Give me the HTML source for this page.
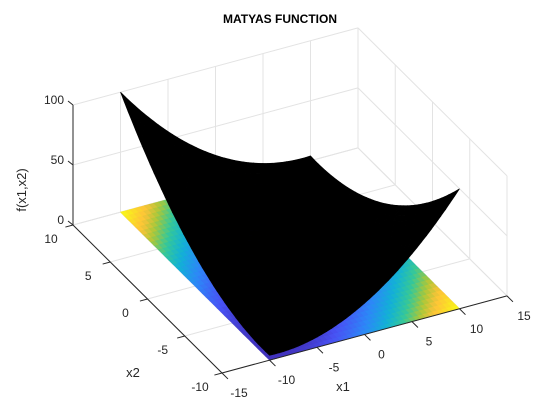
<!DOCTYPE html>
<html><head><meta charset="utf-8"><style>
html,body{margin:0;padding:0;background:#fff}
svg{display:block;font-family:"Liberation Sans",Arial,sans-serif}
</style></head><body>
<svg id="chart" width="560" height="420" viewBox="0 0 560 420">
<rect width="560" height="420" fill="#fff"/>
<g id="grid"></g>
<g id="plane"></g>
<g id="surf"></g>
<g id="axes"></g>
<text x="280" y="23" text-anchor="middle" font-size="12" font-weight="bold">MATYAS FUNCTION</text>
<text x="343" y="391" text-anchor="middle" font-size="13" fill="#262626">x1</text>
<text x="133" y="377" text-anchor="middle" font-size="13" fill="#262626">x2</text>
<text x="0" y="0" transform="translate(26,190) rotate(-90)" text-anchor="middle" font-size="13" fill="#262626">f(x1,x2)</text>
</svg>
<script>
const xTicks = [-15, -10, -5, 0, 5, 10, 15];
const yTicks = [-10, -5, 0, 5, 10];
const zTicks = [0, 50, 100];
const xDomain = [-15, 15];
const yDomain = [-10, 10];
const zDomain = [0, 100];
const surfX = [-10, 10];
const surfY = [-10, 10];
const matyasCoef = [0.26, 0.48];
const clim = [0, 100];

const NS = 'http://www.w3.org/2000/svg';
const O = [222, 373], EX = [9.5, -2.57], EY = [-7.45, -7.4], EZ = -1.2;
function P(x, y, z) {
  const a = x - xDomain[0], b = y - yDomain[0];
  return [O[0] + a * EX[0] + b * EY[0], O[1] + a * EX[1] + b * EY[1] + z * EZ];
}
function f(x, y) { return matyasCoef[0] * (x * x + y * y) - matyasCoef[1] * x * y; }
const stops = [[62,38,168],[72,82,244],[45,135,247],[18,177,214],[55,200,151],[171,199,57],[254,195,56],[250,225,38],[249,251,21]];
function parula(v) {
  let t = Math.max(0, Math.min(1, (v - clim[0]) / (clim[1] - clim[0]))) * (stops.length - 1);
  const i = Math.min(stops.length - 2, Math.floor(t)), u = t - i;
  const c = stops[i].map((s, k) => Math.round(s + (stops[i + 1][k] - s) * u));
  return 'rgb(' + c.join(',') + ')';
}
function line(g, a, b, col, w, name) {
  const l = document.createElementNS(NS, 'line');
  l.setAttribute('x1', a[0]); l.setAttribute('y1', a[1]);
  l.setAttribute('x2', b[0]); l.setAttribute('y2', b[1]);
  l.setAttribute('stroke', col); l.setAttribute('stroke-width', w);
  
  
  g.appendChild(l);
}
function text(g, p, s, anchor, name) {
  const t = document.createElementNS(NS, 'text');
  t.setAttribute('x', p[0]); t.setAttribute('y', p[1]);
  t.setAttribute('text-anchor', anchor); t.setAttribute('font-size', '12');
  t.setAttribute('fill', '#262626'); t.textContent = s;
  
  
  g.appendChild(t);
}
function poly(g, pts, col, name) {
  const p = document.createElementNS(NS, 'polygon');
  p.setAttribute('points', pts.map(q => q[0].toFixed(1) + ',' + q[1].toFixed(1)).join(' '));
  p.setAttribute('fill', col); p.setAttribute('stroke', col); p.setAttribute('stroke-width', '0.6');
  
  
  g.appendChild(p);
}
const grid = document.getElementById('grid');
const GC = '#e3e3e3';
const x0 = xDomain[0], x1 = xDomain[1], y0 = yDomain[0], y1 = yDomain[1], z1 = zDomain[1];
xTicks.forEach(x => {
  line(grid, P(x, y0, 0), P(x, y1, 0), GC, 1, 'floor-grid-x');
  line(grid, P(x, y1, 0), P(x, y1, z1), GC, 1, 'wall-grid-x');
});
yTicks.forEach(y => {
  line(grid, P(x0, y, 0), P(x1, y, 0), GC, 1, 'floor-grid-y');
  line(grid, P(x1, y, 0), P(x1, y, z1), GC, 1, 'wall-grid-y');
});
zTicks.forEach(z => {
  line(grid, P(x0, y1, z), P(x1, y1, z), GC, 1, 'wall-grid-z');
  line(grid, P(x1, y1, z), P(x1, y0, z), GC, 1, 'wall-grid-z');
});
const N = 40;
const plane = document.getElementById('plane'), surf = document.getElementById('surf');
const dx = (surfX[1] - surfX[0]) / N, dy = (surfY[1] - surfY[0]) / N;
for (let i = 0; i < N; i++) for (let j = 0; j < N; j++) {
  const xa = surfX[0] + i * dx, xb = xa + dx, ya = surfY[0] + j * dy, yb = ya + dy;
  const v = f(xa + dx / 2, ya + dy / 2);
  poly(plane, [P(xa, ya, 0), P(xb, ya, 0), P(xb, yb, 0), P(xa, yb, 0)], parula(v), 'floor-cell');
}
for (let i = 0; i < N; i++) for (let j = 0; j < N; j++) {
  const xa = surfX[0] + i * dx, xb = xa + dx, ya = surfY[0] + j * dy, yb = ya + dy;
  poly(surf, [P(xa, ya, f(xa, ya)), P(xb, ya, f(xb, ya)), P(xb, yb, f(xb, yb)), P(xa, yb, f(xa, yb))], '#000', 'surface-cell');
}
const ax = document.getElementById('axes');
const AC = '#262626';
line(ax, P(x0, y0, 0), P(x1, y0, 0), AC, 1, 'x-axis-line');
line(ax, P(x0, y0, 0), P(x0, y1, 0), AC, 1, 'y-axis-line');
line(ax, P(x0, y1, 0), P(x0, y1, z1), AC, 1, 'z-axis-line');
xTicks.forEach(x => {
  const a = P(x, y0, 0), b = P(x, y0 - 0.8, 0);
  line(ax, a, b, AC, 1, 'x-tick');
  text(ax, [a[0] + 17, a[1] + 24], String(x), 'middle', 'x-tick-label');
});
yTicks.forEach(y => {
  const a = P(x0, y, 0), b = P(x0 - 0.8, y, 0);
  line(ax, a, b, AC, 1, 'y-tick');
  text(ax, [a[0] - 22, a[1] + 18], String(y), 'middle', 'y-tick-label');
});
zTicks.forEach(z => {
  const a = P(x0, y1, z), b = [a[0] - 5, a[1] - 4];
  line(ax, a, b, AC, 1, 'z-tick');
  text(ax, [a[0] - 9, a[1] - 1], String(z), 'end', 'z-tick-label');
});
</script>
</body></html>
